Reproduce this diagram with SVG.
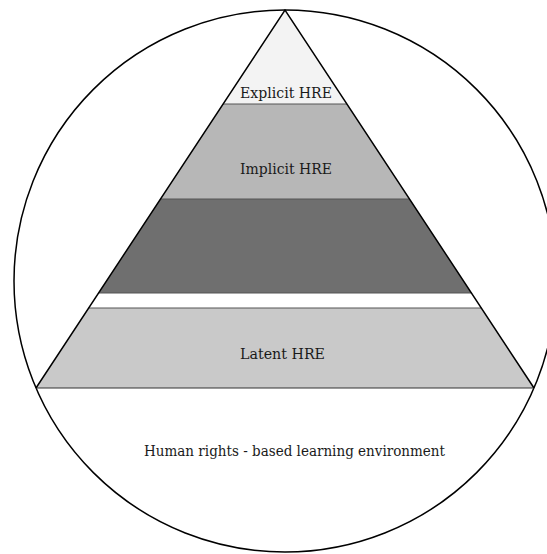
<svg xmlns="http://www.w3.org/2000/svg" width="547" height="554" viewBox="0 0 547 554">
<style>
.band{stroke:none}
.sep{stroke:#555;stroke-width:1}
.edge{fill:none;stroke:#000;stroke-width:1.5;stroke-linejoin:miter}
.lbl{font-family:"DejaVu Serif","Liberation Serif",serif;font-size:14.5px;fill:#1a1a1a}
</style>
<rect width="547" height="554" fill="#fff"/>
<g id="circle"><circle cx="285" cy="281" r="271" fill="none" stroke="#000" stroke-width="1.5"/></g>
<g id="explicit">
<polygon class="band" points="285,10 223.1,104 346.9,104" fill="#f3f3f3"/>
<text class="lbl" x="240" y="98" textLength="92" lengthAdjust="spacingAndGlyphs">Explicit HRE</text>
</g>
<g id="implicit">
<polygon class="band" points="223.1,104 346.9,104 409.5,199 160.5,199" fill="#b7b7b7"/>
<line class="sep" x1="223.1" y1="104" x2="346.9" y2="104"/>
<text class="lbl" x="240" y="174" textLength="92" lengthAdjust="spacingAndGlyphs">Implicit HRE</text>
</g>
<g id="dark">
<polygon class="band" points="160.5,199 409.5,199 471.4,293 98.6,293" fill="#6f6f6f"/>
<line class="sep" x1="160.5" y1="199" x2="409.5" y2="199"/>
<line class="sep" x1="98.6" y1="293" x2="471.4" y2="293"/>
</g>
<g id="latent">
<polygon class="band" points="88.7,308 481.3,308 534,388 36,388" fill="#c9c9c9"/>
<line class="sep" x1="88.7" y1="308" x2="481.3" y2="308"/>
<line x1="36" y1="388" x2="534" y2="388" stroke="#333" stroke-width="1.2"/>
<text class="lbl" x="240" y="359" textLength="85" lengthAdjust="spacingAndGlyphs">Latent HRE</text>
</g>
<g id="triangle">
<polyline class="edge" points="36,388 285,10 534,388"/>
</g>
<g id="environment">
<text class="lbl" x="144" y="456" textLength="301" lengthAdjust="spacingAndGlyphs">Human rights - based learning environment</text>
</g>
</svg>
